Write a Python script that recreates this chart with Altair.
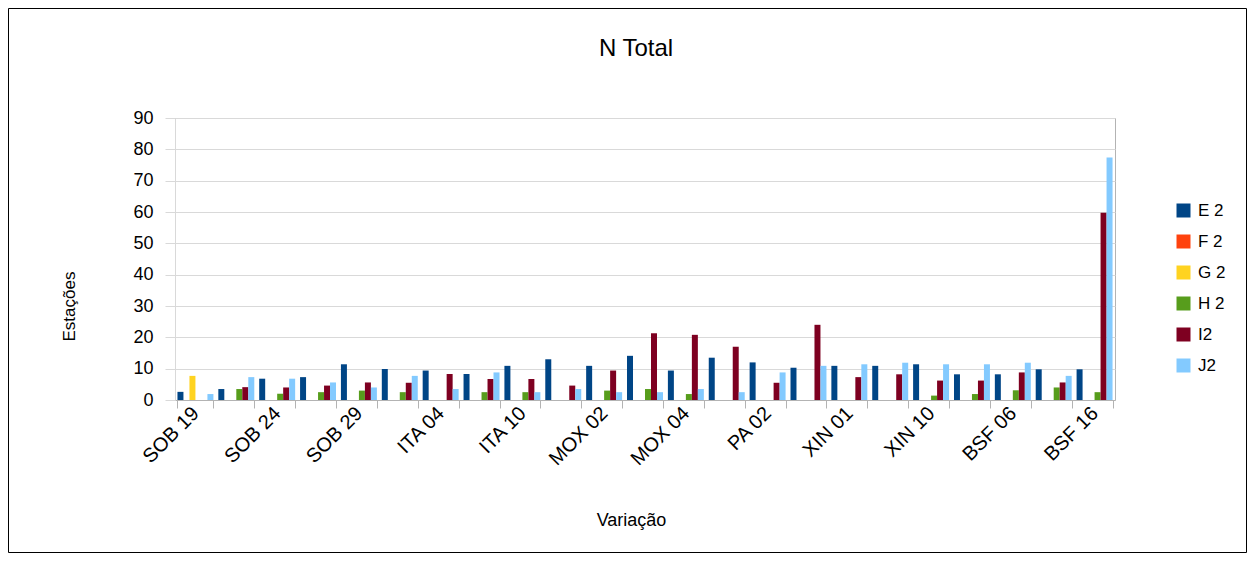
import json
import altair as alt
import pandas as pd

labels = ["SOB 19", "", "SOB 24", "", "SOB 29", "", "ITA 04", "", "ITA 10", "",
          "MOX 02", "", "MOX 04", "", "PA 02", "", "XIN 01", "", "XIN 10", "",
          "BSF 06", "", "BSF 16"]
series = ["E 2", "F 2", "G 2", "H 2", "I2", "J2"]
colors = ["#004586", "#ff420e", "#ffd320", "#579d1c", "#7e0021", "#83caff"]

e2 = [2.6, 3.5, 6.8, 7.3, 11.4, 9.9, 9.4, 8.3, 10.9, 13.0, 10.9, 14.1,
      9.4, 13.5, 12.0, 10.3, 10.9, 10.9, 11.4, 8.2, 8.2, 9.8, 9.8]
f2 = [0, 0, 0, 0, 0, 0, 0, 0, 0, 0, 0, 0, 0, 0, 0, 0, 0, 0, 0, 0, 0, 0, 0]
g2 = [7.7, 0, 0, 0, 0, 0, 0, 0, 0, 0, 0, 0, 0, 0, 0, 0, 0, 0, 0, 0, 0, 0, 0]
h2 = [0, 3.5, 2.0, 2.5, 3.0, 2.5, 0, 2.5, 2.5, 0, 3.0, 3.5,
      1.9, 0, 0, 0, 0, 0, 1.4, 1.9, 3.1, 4.0, 2.5]
i2 = [0, 4.1, 4.0, 4.6, 5.6, 5.5, 8.3, 6.7, 6.7, 4.6, 9.4, 21.3,
      20.8, 17.0, 5.5, 24.0, 7.3, 8.2, 6.2, 6.2, 8.8, 5.6, 59.8]
j2 = [1.9, 7.3, 6.8, 5.6, 4.0, 7.7, 3.5, 8.8, 2.5, 3.5, 2.5, 2.5,
      3.5, 2.5, 8.8, 10.9, 11.4, 11.9, 11.4, 11.4, 11.9, 7.7, 77.4]
y_ticks = [0, 10, 20, 30, 40, 50, 60, 70, 80, 90]

rows = []
for i in range(len(labels)):
    for s, vals in zip(series, [e2, f2, g2, h2, i2, j2]):
        rows.append({"idx": i, "serie": s, "valor": vals[i]})
df = pd.DataFrame(rows)

label_js = "[" + ",".join(json.dumps(l) for l in labels) + "]"
grey = "#b3b3b3"

bars = alt.Chart(df).mark_bar().encode(
    x=alt.X(
        "idx:O",
        title="Variação",
        scale=alt.Scale(paddingInner=0.12, paddingOuter=0.06),
        axis=alt.Axis(
            labelExpr=f"{label_js}[datum.value]",
            labelAngle=-45, labelAlign="right", labelBaseline="middle",
            labelFontSize=20, labelPadding=2, labelOverlap=False,
            tickBand="extent", tickSize=8, tickColor=grey, domainColor=grey,
            grid=False, titleX=456, titleY=120, titleAlign="center",
            titleBaseline="middle", titleFontSize=18, titleFontWeight="normal",
        ),
    ),
    xOffset=alt.XOffset("serie:N", sort=series,
                        scale=alt.Scale(domain=series, paddingInner=0, paddingOuter=0)),
    y=alt.Y(
        "valor:Q",
        title="Estações",
        scale=alt.Scale(domain=[0, 90]),
        axis=alt.Axis(
            values=y_ticks, labelFontSize=18, labelPadding=12,
            tickSize=10, tickColor="#d9d9d9", domainColor="#d9d9d9",
            gridColor="#d9d9d9", titleX=-97, titleY=188,
            titleFontSize=17, titleFontWeight="normal",
        ),
    ),
    color=alt.Color(
        "serie:N", sort=series,
        scale=alt.Scale(domain=series, range=colors),
        legend=alt.Legend(
            title=None, orient="none", legendX=1000, legendY=84,
            symbolType="square", symbolSize=196, symbolStrokeWidth=0,
            labelFontSize=17, rowPadding=13, labelOffset=6,
        ),
    ),
)

frame = alt.Chart(alt.Data(values=[{}])).mark_rect(
    fill=None, stroke="black", strokeWidth=1
).encode(
    x=alt.value(-166.5), x2=alt.value(1071.5),
    y=alt.value(-109.5), y2=alt.value(434.5),
)

chart = alt.layer(bars, frame).properties(
    width=940,
    height=282,
    title=alt.TitleParams("N Total", fontSize=24, fontWeight="normal", offset=-53, dx=-9),
    padding={"left": 167, "top": 110, "right": 132, "bottom": 153},
    autosize=alt.AutoSizeParams(type="none"),
).configure(
    font="Liberation Sans",
).configure_view(
    stroke=grey,
).configure_axis(
    labelColor="black", titleColor="black",
).configure_legend(
    labelColor="black",
)

chart.save("out.html", embed_options={"renderer": "svg", "actions": False})
